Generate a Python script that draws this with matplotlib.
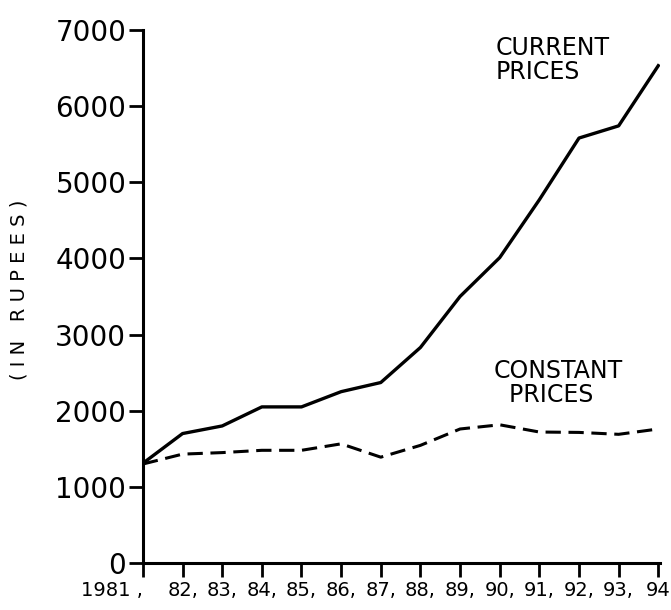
import numpy as np
import matplotlib.pyplot as plt

years = np.arange(1981, 1995)
current_prices = [1310, 1700, 1800, 2050, 2050, 2250, 2370, 2830, 3500, 4010, 4770, 5580, 5740, 6530]
constant_prices = [1300, 1430, 1450, 1480, 1480, 1565, 1390, 1545, 1760, 1815, 1720, 1715, 1690, 1760]
year_labels = ['1981 ,', '82,', '83,', '84,', '85,', '86,', '87,', '88,', '89,',
               '90,', '91,', '92,', '93,', '94']
y_ticks = [0, 1000, 2000, 3000, 4000, 5000, 6000, 7000]

plt.rcParams['font.family'] = 'DejaVu Sans'

fig = plt.figure(figsize=(6.71, 6.1), dpi=100)
ax = fig.add_axes([0.213, 0.077, 0.771, 0.874])

ax.plot(years, current_prices, color='black', linewidth=2.4)
ax.plot(years, constant_prices, color='black', linewidth=2.2, linestyle=(0, (5, 2.5)))

ax.set_xlim(1981, 1994.05)
ax.set_ylim(0, 7000)
ax.set_xticks(years)
ax.set_xticklabels(year_labels, fontsize=14)
ax.set_yticks(y_ticks)
ax.set_yticklabels([str(v) for v in y_ticks], fontsize=20)
ax.tick_params(axis='both', direction='out', length=10, width=2, color='black')
ax.tick_params(axis='y', pad=2)
ax.tick_params(axis='x', pad=3)

# first year label sits left of its tick, like the hand-drawn one
first = ax.get_xticklabels()[0]
first.set_ha('right')
first.set_x(1981.45)

for side in ['top', 'right']:
    ax.spines[side].set_visible(False)
for side in ['left', 'bottom']:
    ax.spines[side].set_linewidth(2.2)

ax.text(1989.9, 6920, 'CURRENT\nPRICES', fontsize=17, va='top', ha='left', linespacing=1.0)
ax.text(1989.85, 2680, 'CONSTANT\n  PRICES', fontsize=17, va='top', ha='left', linespacing=1.0)

fig.text(0.028, 0.525, '( I N   R U P E E S )', rotation=90, fontsize=14,
         va='center', ha='center')

fig.savefig('out.png', dpi=100, facecolor='white')
